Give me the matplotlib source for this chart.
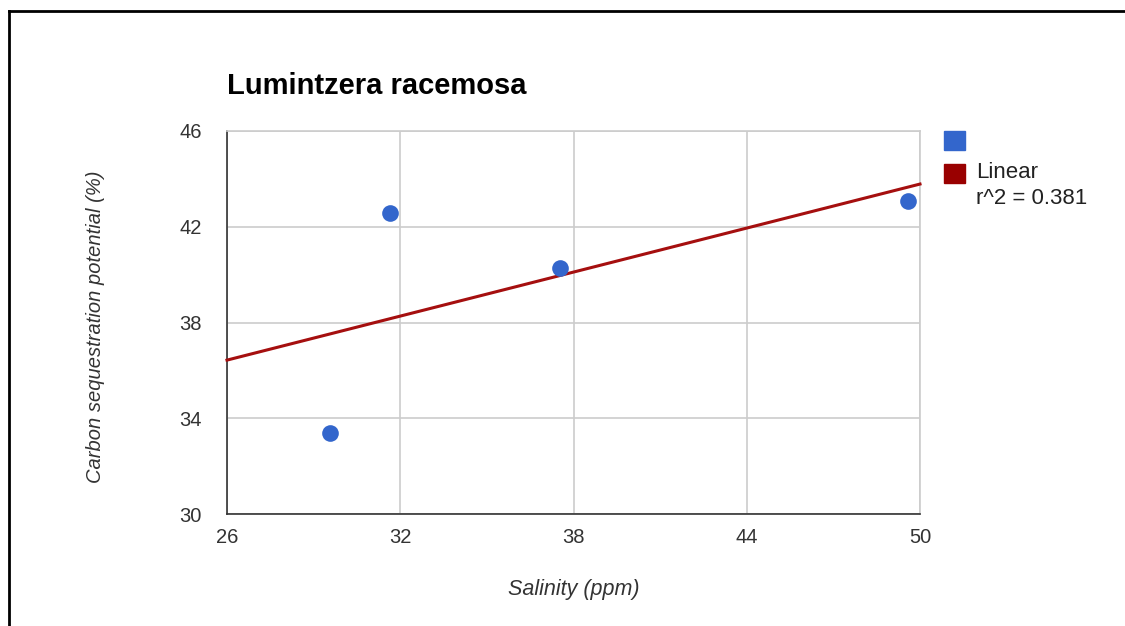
import numpy as np
import matplotlib.pyplot as plt
from matplotlib.lines import Line2D
from matplotlib.patches import Rectangle

# data
salinity = [29.57, 31.65, 37.53, 49.58]
carbon = [33.38, 42.57, 40.28, 43.07]
x_ticks = [26, 32, 38, 44, 50]
y_ticks = [30, 34, 38, 42, 46]

plt.rcParams['font.family'] = ['Liberation Sans', 'DejaVu Sans']

fig = plt.figure(figsize=(11.25, 6.26), dpi=100)
ax = fig.add_axes([227 / 1125, 1 - 514 / 626, (920 - 227) / 1125, (514 - 131) / 626])

# linear trendline
slope, intercept = np.polyfit(salinity, carbon, 1)
r2 = np.corrcoef(salinity, carbon)[0, 1] ** 2
xs = np.array([26, 50])
ax.plot(xs, slope * xs + intercept, color='#a50f0f', lw=2.2, zorder=3, clip_on=False)
ax.plot(salinity, carbon, 'o', color='#3366cc', ms=12, mec='none', zorder=4)

ax.set_xlim(26, 50)
ax.set_ylim(30, 46)
ax.set_xticks(x_ticks)
ax.set_yticks(y_ticks)
ax.grid(True, color='#cccccc', lw=1.2)
ax.set_axisbelow(True)
ax.tick_params(length=0, labelsize=14.5, colors='#333333')
ax.tick_params(axis='y', pad=18)
ax.tick_params(axis='x', pad=10)
for s in ['top', 'right']:
    ax.spines[s].set_color('#cccccc')
    ax.spines[s].set_linewidth(1.2)
for s in ['left', 'bottom']:
    ax.spines[s].set_color('#333333')
    ax.spines[s].set_linewidth(1.2)

ax.set_xlabel('Salinity (ppm)', fontsize=15.5, style='italic', color='#333333', va='center')
ax.xaxis.set_label_coords(0.5, (514 - 590) / 383)
ax.set_ylabel('Carbon sequestration potential (%)', fontsize=14.5, style='italic',
              color='#333333', va='center')
ax.yaxis.set_label_coords((95 - 227) / 693, 0.49)

fig.text(227 / 1125, 1 - 86 / 626, 'Lumintzera racemosa', fontsize=21, fontweight='bold',
         va='center', ha='left')

# legend
fig.patches.append(Rectangle((944 / 1125, 1 - 150 / 626), 21 / 1125, 19 / 626,
                             transform=fig.transFigure, color='#3366cc'))
fig.patches.append(Rectangle((944 / 1125, 1 - 183 / 626), 21 / 1125, 19 / 626,
                             transform=fig.transFigure, color='#990000'))
fig.text(976 / 1125, 1 - 172 / 626, 'Linear', fontsize=16, color='#222222', va='center')
fig.text(976 / 1125, 1 - 199 / 626, 'r^2 = %.3f' % r2, fontsize=16, color='#222222', va='center')

# outer frame
fig.add_artist(Line2D([9 / 1125, 9 / 1125], [0, 1 - 11 / 626], transform=fig.transFigure,
                      color='black', lw=2))
fig.add_artist(Line2D([9 / 1125, 1], [1 - 11 / 626, 1 - 11 / 626], transform=fig.transFigure,
                      color='black', lw=2))

fig.savefig('out.png', dpi=100)
